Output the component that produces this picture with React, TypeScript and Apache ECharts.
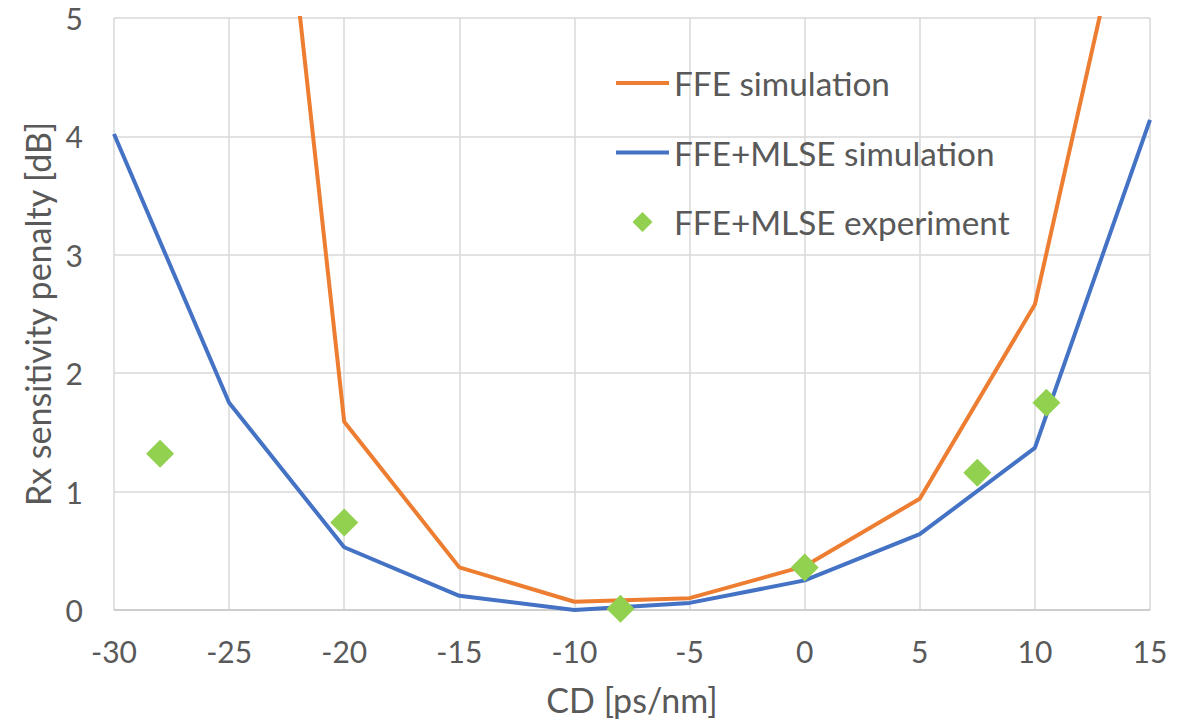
import React, { useEffect, useRef } from "react";
import * as echarts from "echarts";

const ffeSimX = [-25, -20, -15, -10, -5, 0, 5, 10, 15];
const ffeSimY = [10.5, 1.59, 0.36, 0.07, 0.1, 0.37, 0.94, 2.58, 6.9];
const mlseSimX = [-30, -25, -20, -15, -10, -5, 0, 5, 10, 15];
const mlseSimY = [4.02, 1.75, 0.53, 0.12, 0.0, 0.06, 0.25, 0.64, 1.37, 4.14];
const mlseExpX = [-28, -20, -8, 0, 7.5, 10.5];
const mlseExpY = [1.32, 0.74, 0.01, 0.36, 1.16, 1.75];

const seriesNames = ["FFE simulation", "FFE+MLSE simulation", "FFE+MLSE experiment"];
const xAxisTitle = "CD [ps/nm]";
const yAxisTitle = "Rx sensitivity penalty [dB]";

const FONT = "Lato, 'Noto Sans', sans-serif";
const TEXT = "#595959";
const ORANGE = "#ED7D31";
const BLUE = "#4472C4";
const GREEN = "#92D050";

const LINE_ICON = "path://M0,0 L53,0 L53,4 L0,4 Z";
const DIAMOND_ICON = "path://M10,0 L20,10 L10,20 L0,10 Z";

const zip = (xs: number[], ys: number[]) => xs.map((x, i) => [x, ys[i]]);

export default function App() {
  const ref = useRef<HTMLDivElement>(null);
  useEffect(() => {
    document.body.style.margin = "0";
    const chart = echarts.init(ref.current!, undefined, { renderer: "svg" });
    chart.setOption({
      animation: false,
      backgroundColor: "#ffffff",
      textStyle: { fontFamily: FONT },
      grid: { left: 114, right: 41, top: 18, bottom: 110, containLabel: false },
      legend: {
        orient: "vertical",
        left: 616,
        top: 63,
        padding: 0,
        itemWidth: 53,
        itemHeight: 20,
        itemGap: 29.5,
        symbolKeepAspect: true,
        textStyle: { fontSize: 33.3, color: TEXT, fontFamily: FONT, lineHeight: 40 },
        data: [
          { name: seriesNames[0], icon: LINE_ICON, itemStyle: { color: ORANGE, borderWidth: 0 } },
          { name: seriesNames[1], icon: LINE_ICON, itemStyle: { color: BLUE, borderWidth: 0 } },
          { name: seriesNames[2], icon: DIAMOND_ICON, itemStyle: { color: GREEN, borderWidth: 0 } },
        ],
      },
      xAxis: {
        type: "value",
        min: -30,
        max: 15,
        interval: 5,
        name: xAxisTitle,
        nameLocation: "middle",
        nameGap: 72,
        nameTextStyle: { fontSize: 34, color: TEXT, fontFamily: FONT },
        axisLine: { show: true, lineStyle: { color: "#c8c8c8", width: 1.5 } },
        axisTick: { show: false },
        axisLabel: { fontSize: 30, color: TEXT, margin: 26, fontFamily: FONT },
        splitLine: { show: true, lineStyle: { color: "#d9d9d9", width: 1.5 } },
      },
      yAxis: {
        type: "value",
        min: 0,
        max: 5,
        interval: 1,
        name: yAxisTitle,
        nameLocation: "middle",
        nameGap: 58,
        nameTextStyle: { fontSize: 34, color: TEXT, fontFamily: FONT },
        axisLine: { show: false },
        axisTick: { show: false },
        axisLabel: { fontSize: 30, color: TEXT, margin: 31, fontFamily: FONT },
        splitLine: { show: true, lineStyle: { color: "#d9d9d9", width: 1.5 } },
      },
      series: [
        {
          name: seriesNames[0],
          type: "line",
          symbol: "none",
          data: zip(ffeSimX, ffeSimY),
          lineStyle: { color: ORANGE, width: 4 },
          itemStyle: { color: ORANGE },
          clip: true,
          z: 2,
        },
        {
          name: seriesNames[1],
          type: "line",
          symbol: "none",
          data: zip(mlseSimX, mlseSimY),
          lineStyle: { color: BLUE, width: 4 },
          itemStyle: { color: BLUE },
          clip: true,
          z: 3,
        },
        {
          name: seriesNames[2],
          type: "scatter",
          symbol: "diamond",
          symbolSize: 28,
          data: zip(mlseExpX, mlseExpY),
          itemStyle: { color: GREEN, opacity: 1 },
          z: 4,
        },
      ],
    });
    return () => chart.dispose();
  }, []);
  return <div ref={ref} style={{ width: 1191, height: 721 }} />;
}
